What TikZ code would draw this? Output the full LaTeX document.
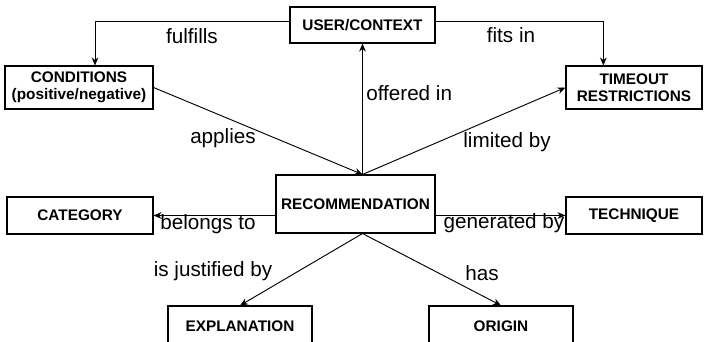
\documentclass[tikz,border=0pt]{standalone}
\usepackage{fontspec}
\setmainfont{Liberation Sans}
\usepackage{tikz}
\usetikzlibrary{arrows.meta, positioning, calc}

\begin{document}
\begin{tikzpicture}[
    x=0.75pt, y=-0.75pt,
    entity/.style={rectangle, draw, line width=0.8pt, inner sep=0pt, align=center, font=\fontsize{11.5}{12.5}\selectfont\bfseries},
    rel/.style={font=\fontsize{15.5}{18}\selectfont, inner sep=0pt},
    link/.style={-{Stealth[length=6pt, width=5pt]}, line width=0.7pt}
]
\clip (0,0) rectangle (704,342);
\fill[white] (0,0) rectangle (704,342);

% Entities
\node[entity, minimum width=145*0.75pt, minimum height=36*0.75pt] (user) at (362.5,25) {USER/CONTEXT};
\node[entity, minimum width=148*0.75pt, minimum height=43*0.75pt] (cond) at (79,87.5) {CONDITIONS\\(positive/negative)};
\node[entity, minimum width=136*0.75pt, minimum height=43*0.75pt] (timeout) at (634,87.5) {TIMEOUT\\RESTRICTIONS};
\node[entity, minimum width=159*0.75pt, minimum height=58*0.75pt] (rec) at (355.5,204) {RECOMMENDATION};
\node[entity, minimum width=146*0.75pt, minimum height=37*0.75pt] (cat) at (80,215.5) {CATEGORY};
\node[entity, minimum width=136*0.75pt, minimum height=37*0.75pt] (tech) at (634,215.5) {TECHNIQUE};
\node[entity, minimum width=144*0.75pt, minimum height=40*0.75pt] (expl) at (240,326) {EXPLANATION};
\node[entity, minimum width=144*0.75pt, minimum height=40*0.75pt] (origin) at (501,326) {ORIGIN};

% Connectors
\coordinate (rectop) at (user.south |- rec.north);
\coordinate (recbot) at (user.south |- rec.south);
\draw[link] ([yshift=3pt]user.west) -| ([xshift=12pt]cond.north);
\draw[link] ([yshift=3pt]user.east) -| ([xshift=-23pt]timeout.north);
\draw[link] (rectop) -- (user.south);
\draw[link] (cond.east) -- (rectop);
\draw[link] (rectop) -- (timeout.west);
\draw[link] (rec.west |- cat.east) -- (cat.east);
\draw[link] (rec.east |- tech.west) -- (tech.west);
\draw[link] (recbot) -- (expl.north);
\draw[link] (recbot) -- (origin.north);

% Relation labels
\node[rel] (lfulfills) at (192,36) {fulfills};
\node[rel] (lfits) at (511,35) {fits in};
\node[rel, anchor=west] (loffered) at (366,93) {offered in};
\node[rel] (lapplies) at (223,138) {applies};
\node[rel] (llimited) at (507,142) {limited by};
\node[rel] (lbelongs) at (208,224) {belongs to};
\node[rel] (lgenerated) at (504,223) {generated by};
\node[rel] (ljustified) at (213,271) {is justified by};
\node[rel] (lhas) at (482,273) {has};

\end{tikzpicture}
\end{document}
